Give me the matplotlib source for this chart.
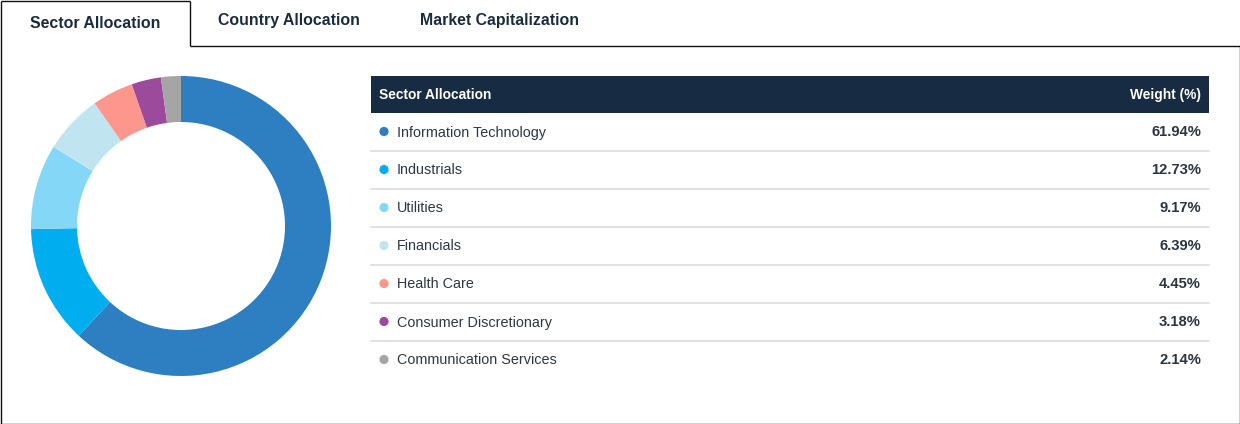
import matplotlib
matplotlib.use('Agg')
import matplotlib.pyplot as plt
from matplotlib.patches import Rectangle, Circle

# data
sectors = ['Information Technology', 'Industrials', 'Utilities', 'Financials',
           'Health Care', 'Consumer Discretionary', 'Communication Services']
weights = [61.94, 12.73, 9.17, 6.39, 4.45, 3.18, 2.14]
colors = ['#2e7ec2', '#00aeef', '#84d7f7', '#c0e5f1', '#fd978e', '#9c4a9b', '#a5a5a5']
tabs = ['Sector Allocation', 'Country Allocation', 'Market Capitalization']
header = ['Sector Allocation', 'Weight (%)']

W, H = 1240, 424
navy = '#1a2b3d'
plt.rcParams['font.family'] = ['Liberation Sans', 'DejaVu Sans']

fig = plt.figure(figsize=(W / 100, H / 100), dpi=100)
bg = fig.add_axes([0, 0, 1, 1])
bg.set_xlim(0, W)
bg.set_ylim(H, 0)
bg.axis('off')

# tab + panel outline
k = dict(color='#111111', lw=1.0, solid_capstyle='butt')
bg.plot([0.5, 189.5], [0.5, 0.5], **k)
bg.plot([189.5, 189.5], [0.5, 45.5], **k)
bg.plot([189.5, W - 0.5], [45.5, 45.5], **k)
bg.plot([W - 0.5, W - 0.5], [45.5, H - 0.5], **k)
bg.plot([0.5, W - 0.5], [H - 0.5, H - 0.5], **k)
bg.plot([0.5, 0.5], [0.5, H - 0.5], **k)

tab_x = [95, 289, 499]
tab_y = [23, 21, 21]
for t, x, y in zip(tabs, tab_x, tab_y):
    bg.text(x, y, t, ha='center', va='center', fontsize=11.4,
            fontweight='bold', color=navy)

# table
tx0, tx1 = 371, 1209
bg.add_patch(Rectangle((tx0, 76), tx1 - tx0, 37, color='#172c42', lw=0))
bg.text(379, 95, header[0], ha='left', va='center', fontsize=9.9,
        fontweight='bold', color='white')
bg.text(1201, 95, header[1], ha='right', va='center', fontsize=9.9,
        fontweight='bold', color='white')

row_h = 38
for i, (s, w, c) in enumerate(zip(sectors, weights, colors)):
    yc = 131.5 + i * row_h
    bg.add_patch(Circle((384, yc), 4.6, color=c, lw=0))
    bg.text(397, yc + 1, s, ha='left', va='center', fontsize=10.4, color='#2f3742')
    bg.text(1201, yc + 1, f'{w:.2f}%', ha='right', va='center', fontsize=10.6,
            fontweight='bold', color='#2b3440')
    if i < len(sectors) - 1:
        bg.plot([tx0, tx1], [yc + 19, yc + 19], color='#dddddd', lw=1.2)

# donut
cx, cy, R = 181, 226, 150
ax = fig.add_axes([(cx - R) / W, (H - cy - R) / H, 2 * R / W, 2 * R / H])
ax.pie(weights, colors=colors, startangle=90, counterclock=False,
       wedgeprops=dict(width=46 / R, linewidth=0))
ax.set_xlim(-1, 1)
ax.set_ylim(-1, 1)
ax.set_aspect('equal')
ax.axis('off')

fig.savefig('out.png', dpi=100)
